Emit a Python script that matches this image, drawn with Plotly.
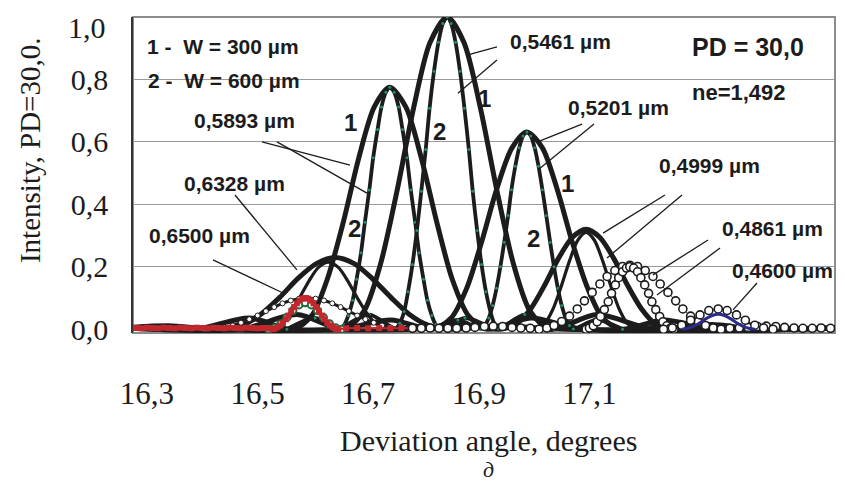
import plotly.graph_objects as go

# ---- data (deviation angle in degrees, relative intensity) ----

# 0,5461 um
w5461_1_x = [16.27, 16.469, 16.571, 16.656, 16.692, 16.722, 16.752, 16.782, 16.812, 16.843,
             16.873, 16.903, 16.933, 16.963, 16.993, 17.029, 17.114, 17.216, 17.55]
w5461_1_y = [0.004, 0.0, 0.047, 0.0, 0.057, 0.207, 0.442, 0.708, 0.919, 1.0,
             0.919, 0.708, 0.442, 0.207, 0.057, 0.0, 0.047, 0.0, 0.004]
w5461_2_x = [16.649, 16.702, 16.749, 16.757, 16.765, 16.772, 16.780, 16.788, 16.796, 16.804,
             16.811, 16.819, 16.827, 16.835, 16.843, 16.850, 16.858, 16.866, 16.874, 16.882,
             16.889, 16.897, 16.905, 16.913, 16.921, 16.928, 16.936, 16.983, 17.036]
w5461_2_y = [0.0, 0.047, 0.002, 0.019, 0.057, 0.120, 0.207, 0.316, 0.442, 0.576,
             0.708, 0.826, 0.919, 0.979, 1.0, 0.979, 0.919, 0.826, 0.708, 0.576,
             0.442, 0.316, 0.207, 0.120, 0.057, 0.019, 0.002, 0.047, 0.0]

# 0,5893 um
w5893_1_x = [16.27, 16.389, 16.485, 16.564, 16.598, 16.626, 16.655, 16.683, 16.711, 16.739,
             16.768, 16.796, 16.824, 16.852, 16.881, 16.915, 16.994, 17.090, 17.55]
w5893_1_y = [0.004, 0.0, 0.036, 0.0, 0.044, 0.160, 0.343, 0.549, 0.712, 0.775,
             0.712, 0.549, 0.343, 0.160, 0.044, 0.0, 0.036, 0.0, 0.004]
w5893_2_x = [16.553, 16.604, 16.649, 16.657, 16.664, 16.672, 16.679, 16.687, 16.694, 16.702,
             16.709, 16.717, 16.724, 16.732, 16.739, 16.747, 16.755, 16.762, 16.770, 16.777,
             16.785, 16.792, 16.800, 16.807, 16.815, 16.822, 16.830, 16.875, 16.926]
w5893_2_y = [0.0, 0.036, 0.002, 0.015, 0.044, 0.093, 0.160, 0.245, 0.343, 0.446,
             0.549, 0.640, 0.712, 0.759, 0.775, 0.759, 0.712, 0.640, 0.549, 0.446,
             0.343, 0.245, 0.160, 0.093, 0.044, 0.015, 0.002, 0.036, 0.0]

# 0,5201 um
w5201_1_x = [16.27, 16.647, 16.741, 16.817, 16.850, 16.878, 16.905, 16.932, 16.960, 16.987,
             17.015, 17.042, 17.069, 17.097, 17.124, 17.157, 17.234, 17.327, 17.55]
w5201_1_y = [0.004, 0.0, 0.030, 0.0, 0.036, 0.131, 0.279, 0.447, 0.581, 0.632,
             0.581, 0.447, 0.279, 0.131, 0.036, 0.0, 0.030, 0.0, 0.004]
w5201_2_x = [16.815, 16.862, 16.904, 16.911, 16.918, 16.925, 16.932, 16.939, 16.946, 16.953,
             16.959, 16.966, 16.973, 16.980, 16.987, 16.994, 17.001, 17.008, 17.015, 17.022,
             17.029, 17.036, 17.043, 17.050, 17.057, 17.064, 17.071, 17.112, 17.160]
w5201_2_y = [0.0, 0.030, 0.001, 0.012, 0.036, 0.076, 0.131, 0.200, 0.279, 0.364,
             0.447, 0.522, 0.581, 0.619, 0.632, 0.619, 0.581, 0.522, 0.447, 0.364,
             0.279, 0.200, 0.131, 0.076, 0.036, 0.012, 0.001, 0.030, 0.0]

# 0,4999 um
w4999_1_x = [16.27, 16.783, 16.868, 16.938, 16.968, 16.994, 17.019, 17.044, 17.069, 17.094,
             17.119, 17.144, 17.169, 17.194, 17.219, 17.250, 17.320, 17.405, 17.55]
w4999_1_y = [0.004, 0.0, 0.015, 0.0, 0.018, 0.066, 0.141, 0.227, 0.294, 0.32,
             0.294, 0.227, 0.141, 0.066, 0.018, 0.0, 0.015, 0.0, 0.004]
w4999_2_x = [16.907, 16.958, 17.001, 17.019, 17.034, 17.049, 17.064, 17.079, 17.094,
             17.109, 17.124, 17.139, 17.154, 17.169, 17.187, 17.229, 17.281]
w4999_2_y = [0.0, 0.015, 0.0, 0.018, 0.064, 0.137, 0.219, 0.285, 0.31,
             0.285, 0.219, 0.137, 0.064, 0.018, 0.0, 0.015, 0.0]

# 0,4861 um (open circles)
w4861_1_x = [16.78, 16.796, 16.812, 16.828, 16.844, 16.86, 16.877, 16.893, 16.91, 16.926,
             16.943, 16.96, 16.976, 16.993,
             17.009, 17.023, 17.036, 17.050, 17.064, 17.078, 17.091, 17.105, 17.119, 17.132,
             17.146, 17.160, 17.173, 17.187, 17.201, 17.215, 17.228, 17.242, 17.256, 17.269,
             17.283, 17.297, 17.310, 17.324, 17.338,
             17.354, 17.371, 17.387, 17.404, 17.42, 17.437, 17.453, 17.47, 17.486, 17.503,
             17.519, 17.536]
w4861_1_y = [0.003, 0.003, 0.004, 0.003, 0.003, 0.003, 0.004, 0.006, 0.009, 0.010,
             0.009, 0.006, 0.004, 0.003,
             0.0, 0.004, 0.012, 0.025, 0.042, 0.065, 0.091, 0.118, 0.145, 0.169,
             0.188, 0.201, 0.205, 0.201, 0.188, 0.169, 0.145, 0.118, 0.091, 0.065,
             0.042, 0.025, 0.012, 0.004, 0.0,
             0.003, 0.004, 0.006, 0.009, 0.010, 0.009, 0.006, 0.004, 0.003, 0.003,
             0.004, 0.003]
w4861_2_x = [17.094, 17.100, 17.107, 17.114, 17.120, 17.127, 17.134, 17.140, 17.147, 17.153,
             17.160, 17.167, 17.173, 17.180, 17.187, 17.193, 17.200, 17.207, 17.213, 17.220,
             17.227, 17.233, 17.240, 17.247, 17.253]
w4861_2_y = [0.0, 0.004, 0.011, 0.024, 0.041, 0.063, 0.088, 0.115, 0.142, 0.165,
             0.184, 0.196, 0.2, 0.196, 0.184, 0.165, 0.142, 0.115, 0.088, 0.063,
             0.041, 0.024, 0.011, 0.004, 0.0]

# 0,4600 um
w4600_1_x = [17.234, 17.250, 17.267, 17.283, 17.300, 17.316, 17.333, 17.349, 17.366,
             17.382, 17.399, 17.415, 17.432]
w4600_1_y = [0.0, 0.004, 0.013, 0.029, 0.046, 0.060, 0.065, 0.060, 0.046,
             0.029, 0.013, 0.004, 0.0]
w4600_2_x = [17.267, 17.278, 17.289, 17.300, 17.311, 17.322, 17.333, 17.344, 17.355,
             17.366, 17.377, 17.388, 17.399]
w4600_2_y = [0.0, 0.003, 0.010, 0.021, 0.034, 0.044, 0.048, 0.044, 0.034,
             0.021, 0.010, 0.003, 0.0]

# 0,6328 um
w6328_1_x = [16.27, 16.339, 16.432, 16.473, 16.506, 16.540, 16.573, 16.607, 16.640,
             16.674, 16.707, 16.741, 16.774, 16.808, 16.848, 16.942, 17.055, 17.55]
w6328_1_y = [0.006, 0.011, 0.0, 0.013, 0.048, 0.102, 0.163, 0.211, 0.23,
             0.211, 0.163, 0.102, 0.048, 0.013, 0.0, 0.011, 0.0, 0.004]
w6328_2_x = [16.405, 16.466, 16.516, 16.538, 16.556, 16.574, 16.592, 16.610, 16.628,
             16.646, 16.664, 16.682, 16.700, 16.718, 16.740, 16.790, 16.851]
w6328_2_y = [0.0, 0.010, 0.0, 0.012, 0.045, 0.095, 0.152, 0.198, 0.215,
             0.198, 0.152, 0.095, 0.045, 0.012, 0.0, 0.010, 0.0]

# 0,6500 um
w6500_1_x = [16.32, 16.404, 16.44, 16.455, 16.47, 16.485, 16.5, 16.515, 16.53, 16.545,
             16.56, 16.575, 16.59, 16.605, 16.62, 16.635, 16.65, 16.665, 16.68, 16.695,
             16.71, 16.725, 16.74, 16.776, 16.86]
w6500_1_y = [0.005, 0.0, 0.006, 0.012, 0.021, 0.032, 0.044, 0.058, 0.071, 0.083,
             0.092, 0.098, 0.1, 0.098, 0.092, 0.083, 0.071, 0.058, 0.044, 0.032,
             0.021, 0.012, 0.006, 0.0, 0.005]
w6500_2_x = [16.28, 16.29, 16.30, 16.31, 16.32, 16.33, 16.34, 16.35, 16.36, 16.37,
             16.38, 16.39, 16.40, 16.41, 16.42, 16.43, 16.44, 16.45, 16.46, 16.47,
             16.48, 16.49, 16.50, 16.51, 16.52,
             16.526, 16.531, 16.536, 16.541, 16.546, 16.551, 16.556, 16.561, 16.566, 16.571,
             16.576, 16.581, 16.586, 16.591, 16.596, 16.601, 16.606, 16.611, 16.616, 16.621,
             16.626, 16.631, 16.636, 16.641, 16.646,
             16.66, 16.68, 16.70, 16.72, 16.74, 16.76, 16.78]
w6500_2_y = [0.004, 0.003, 0.005, 0.004, 0.003, 0.005, 0.004, 0.003, 0.005, 0.004,
             0.003, 0.005, 0.004, 0.003, 0.005, 0.004, 0.003, 0.005, 0.004, 0.003,
             0.005, 0.004, 0.003, 0.004, 0.003,
             0.0, 0.002, 0.006, 0.012, 0.021, 0.032, 0.044, 0.058, 0.071, 0.083,
             0.092, 0.098, 0.1, 0.098, 0.092, 0.083, 0.071, 0.058, 0.044, 0.032,
             0.021, 0.012, 0.006, 0.002, 0.0,
             0.003, 0.004, 0.003, 0.004, 0.003, 0.004, 0.003]
w6500_3_x = [16.520, 16.531, 16.542, 16.553, 16.564, 16.575, 16.586, 16.597, 16.608,
             16.619, 16.630, 16.641, 16.652]
w6500_3_y = [0.0, 0.005, 0.018, 0.038, 0.060, 0.078, 0.085, 0.078, 0.060,
             0.038, 0.018, 0.005, 0.0]

x_ticks = [16.3, 16.5, 16.7, 16.9, 17.1]
x_ticktext = ["16,3", "16,5", "16,7", "16,9", "17,1"]
y_ticks = [0.0, 0.2, 0.4, 0.6, 0.8, 1.0]
# the top label is written separately, a little below the top edge as in the original
y_ticktext = ["0,0", "0,2", "0,4", "0,6", "0,8", ""]
y_top_label = "1,0"

# wavelength labels: text, x, y (left anchored)
label_text = ["0,5461 µm", "0,5201 µm", "0,4999 µm", "0,4861 µm", "0,4600 µm",
              "0,6328 µm", "0,6500 µm"]
label_x = [16.9528, 17.0577, 17.2222, 17.3362, 17.3542, 16.3633, 16.300]
label_y = [0.920, 0.709, 0.526, 0.324, 0.187, 0.468, 0.299]

# curve numbers
num_text = ["1", "1", "2", "2", "1", "2"]
num_x = [16.6671, 16.9094, 16.8298, 16.6761, 17.0595, 16.998]
num_y = [0.663, 0.740, 0.632, 0.324, 0.468, 0.292]

# leader lines x0, y0, x1, y1
leaders = [
    (16.9329, 0.904, 16.8786, 0.878), (16.9329, 0.862, 16.8624, 0.756),
    (16.508, 0.600, 16.6671, 0.526), (16.5351, 0.600, 16.6978, 0.436),
    (17.0866, 0.657, 17.0107, 0.603), (17.1083, 0.657, 17.0107, 0.516),
    (17.2367, 0.430, 17.1246, 0.308), (17.2675, 0.430, 17.1318, 0.228),
    (17.3145, 0.286, 17.215, 0.174), (17.3362, 0.260, 17.2222, 0.110),
    (17.4031, 0.148, 17.3597, 0.062),
    (16.4591, 0.430, 16.5712, 0.190),
    (16.4193, 0.222, 16.5459, 0.116),
]

INK = "#1c1c1c"
DOT = "#1f8f70"
SANS = "Liberation Sans, Arial, sans-serif"
SERIF = "Liberation Serif, Times New Roman, serif"

fig = go.Figure()


def add_line(x, y, width, **kw):
    fig.add_trace(go.Scatter(x=x, y=y, mode=kw.pop("mode", "lines"),
                             line=dict(color=kw.pop("color", INK), width=width, shape="spline",
                                       smoothing=0.8),
                             hoverinfo="skip", showlegend=False, **kw))


# thick W = 300 curves
for xs, ys in [(w6328_1_x, w6328_1_y), (w5893_1_x, w5893_1_y), (w5461_1_x, w5461_1_y),
               (w5201_1_x, w5201_1_y), (w4999_1_x, w4999_1_y)]:
    add_line(xs, ys, 5)

# W = 600 curves with small dots
for xs, ys in [(w5893_2_x, w5893_2_y), (w5461_2_x, w5461_2_y), (w5201_2_x, w5201_2_y)]:
    add_line(xs, ys, 3.8, mode="lines+markers", marker=dict(size=3, color=DOT))
for xs, ys in [(w4999_2_x, w4999_2_y), (w6328_2_x, w6328_2_y)]:
    add_line(xs, ys, 3.2)

# 0,6500 um
add_line(w6500_1_x, w6500_1_y, 3, mode="lines+markers",
         marker=dict(size=5, color="white", line=dict(color=INK, width=1)))
add_line(w6500_3_x, w6500_3_y, 1, color="#1e6b3c", mode="lines+markers",
         marker=dict(size=7, color="white", line=dict(color="#1e6b3c", width=2)))
add_line(w6500_2_x, w6500_2_y, 2, color="#c1272d", mode="lines+markers",
         marker=dict(size=6, symbol="square", color="#c1272d"))

# 0,4861 and 0,4600 um
for xs, ys in [(w4861_1_x, w4861_1_y), (w4861_2_x, w4861_2_y), (w4600_1_x, w4600_1_y)]:
    add_line(xs, ys, 1, mode="lines+markers",
             marker=dict(size=8, color="white", line=dict(color=INK, width=1.6)))
add_line(w4600_2_x, w4600_2_y, 3, color="#2b2b8c")

annotations = []
for t, x, y in zip(label_text, label_x, label_y):
    annotations.append(dict(x=x, y=y, text="<b>" + t + "</b>", xanchor="left", yanchor="middle",
                            showarrow=False, font=dict(family=SANS, size=21, color=INK)))
annotations.append(dict(x=16.5712, y=0.667, text="<b>0,5893 µm</b>", xanchor="right",
                        yanchor="middle", showarrow=False,
                        font=dict(family=SANS, size=21, color=INK)))
for t, x, y in zip(num_text, num_x, num_y):
    annotations.append(dict(x=x, y=y, text="<b>" + t + "</b>", showarrow=False,
                            font=dict(family=SANS, size=24, color=INK)))
annotations += [
    dict(x=16.2964, y=0.907, text="<b>1 -  W = 300 µm</b>", xanchor="left", yanchor="middle",
         showarrow=False, font=dict(family=SANS, size=21, color=INK)),
    dict(x=16.2982, y=0.798, text="<b>2 -  W = 600 µm</b>", xanchor="left", yanchor="middle",
         showarrow=False, font=dict(family=SANS, size=21, color=INK)),
    dict(x=17.2819, y=0.904, text="<b>PD = 30,0</b>", xanchor="left", yanchor="middle",
         showarrow=False, font=dict(family=SANS, size=25, color=INK)),
    dict(x=17.2819, y=0.757, text="<b>ne=1,492</b>", xanchor="left", yanchor="middle",
         showarrow=False, font=dict(family=SANS, size=22, color=INK)),
    dict(xref="paper", yref="paper", x=-0.0356, y=1.026, text=y_top_label,
         xanchor="right", yanchor="top", showarrow=False,
         font=dict(family=SERIF, size=30, color=INK)),
    dict(xref="paper", yref="paper", x=-0.1467, y=0.579, text="Intensity, PD=30,0.",
         textangle=-90, xanchor="center", yanchor="middle", showarrow=False,
         font=dict(family=SERIF, size=29, color=INK)),
    dict(xref="paper", yref="paper", x=0.5057, y=-0.339, text="Deviation angle, degrees",
         xanchor="center", yanchor="middle", showarrow=False,
         font=dict(family=SERIF, size=30, color=INK)),
    dict(xref="paper", yref="paper", x=0.5057, y=-0.4335, text="<i>д</i>",
         xanchor="center", yanchor="middle", showarrow=False,
         font=dict(family=SERIF, size=22, color=INK)),
]

shapes = [dict(type="line", xref="x", yref="y", x0=a, y0=b, x1=c, y1=d,
               line=dict(color=INK, width=1.3)) for a, b, c, d in leaders]
shapes.append(dict(type="rect", xref="paper", yref="paper", x0=0, y0=0, x1=1, y1=1,
                   line=dict(color="#8c8c8c", width=2), layer="below"))

# the page body adds an 8 px offset, so the margins are set 8 px smaller on the left/top
fig.update_layout(
    width=845, height=486,
    margin=dict(l=125, r=18, t=9, b=161),
    paper_bgcolor="white", plot_bgcolor="white",
    annotations=annotations, shapes=shapes,
    xaxis=dict(range=[16.2747, 17.5441], tickvals=x_ticks, ticktext=x_ticktext,
               showgrid=False, zeroline=False, ticks="outside", ticklen=33, automargin=False,
               tickcolor="rgba(0,0,0,0)", tickfont=dict(family=SERIF, size=31, color=INK)),
    xaxis2=dict(overlaying="x", side="top", range=[0, 9], tickvals=[1, 2, 4, 5, 8],
                showgrid=True, gridcolor="#9a9a9a", gridwidth=1.3, showticklabels=False,
                ticks="", zeroline=False, automargin=False),
    xaxis3=dict(overlaying="x", side="top", range=[0, 9], tickvals=[3, 6, 7], showgrid=True,
                gridcolor="#222222", gridwidth=1.2, showticklabels=False, ticks="",
                zeroline=False, automargin=False),
    yaxis=dict(range=[-0.012, 1.0], tickvals=y_ticks, ticktext=y_ticktext, automargin=False,
               showgrid=True, gridcolor="#9a9a9a", gridwidth=1.3, zeroline=False,
               showline=True, linecolor="#333333", linewidth=1.5,
               ticks="outside", ticklen=17, tickcolor="rgba(0,0,0,0)",
               tickfont=dict(family=SERIF, size=30, color=INK)),
    yaxis2=dict(overlaying="y", side="right", range=[-0.012, 1.0], tickvals=[0.4, 0.8],
                showgrid=True, gridcolor="#222222", gridwidth=1.2, showticklabels=False,
                ticks="", zeroline=False, automargin=False),
)

fig.write_html("out.html")
